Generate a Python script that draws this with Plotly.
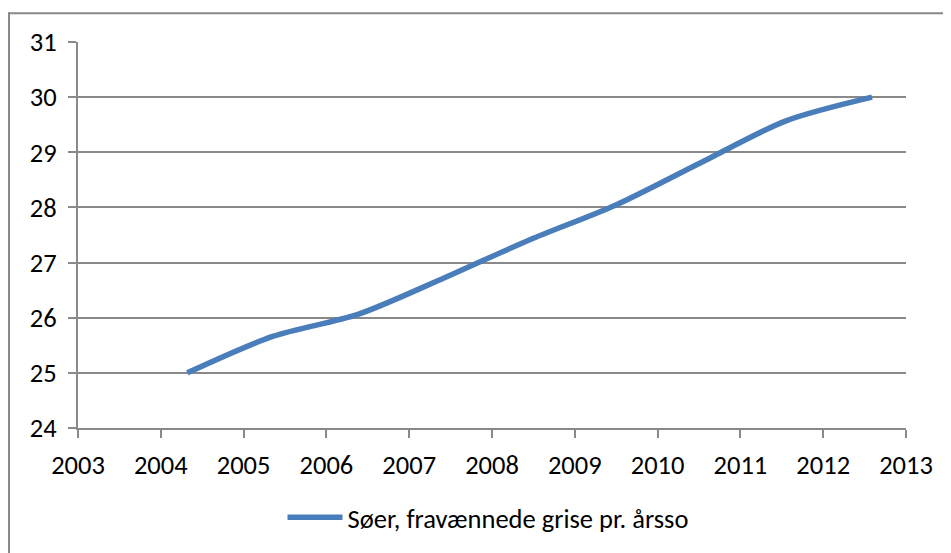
import plotly.graph_objects as go

# Data
years = [2004.32, 2005.35, 2006.38, 2007.42, 2008.45, 2009.49, 2010.52, 2011.55, 2012.59]
values = [25.0, 25.66, 26.06, 26.72, 27.41, 28.04, 28.81, 29.57, 30.0]
series_name = "Søer, fravænnede grise pr. årsso"
x_ticks = list(range(2003, 2014))
y_ticks = list(range(24, 32))

OFF = 8  # page body margin
W, H = 951 - OFF, 553 - OFF
L, R, T, B = 78 - OFF, 906 - OFF, 42 - OFF, 430 - OFF
ml, mr, mt, mb = L, W - R, T, H - B
pw, ph = R - L, B - T

def px(x):
    return (x - OFF - L) / pw

def py(y):
    return (B - (y - OFF)) / ph

FONT = "Carlito, Calibri, Lato, 'Liberation Sans', sans-serif"
GRID = "#898989"
FS = 26.5

fig = go.Figure()
fig.add_trace(go.Scatter(
    x=years, y=values, mode="lines", name=series_name,
    line=dict(color="#4A7EBB", width=5.5, shape="spline", smoothing=0.8),
))

fig.update_layout(
    width=W, height=H,
    margin=dict(l=ml, r=mr, t=mt, b=mb, pad=0),
    paper_bgcolor="white", plot_bgcolor="white",
    font=dict(family=FONT, size=FS, color="black"),
    showlegend=True,
    legend=dict(orientation="h", x=px(488), xanchor="center", y=py(520), yanchor="middle",
                font=dict(size=FS), itemwidth=55),
    xaxis=dict(range=[2003, 2013], tickvals=x_ticks, ticktext=[str(v) for v in x_ticks],
               showgrid=False, zeroline=False, showline=True, linecolor=GRID, linewidth=2,
               ticks="outside", ticklen=8, tickwidth=2, tickcolor=GRID,
               tickfont=dict(size=FS), ticklabelstandoff=4, fixedrange=True),
    yaxis=dict(range=[24, 31], tickvals=y_ticks, showgrid=True, gridcolor=GRID, gridwidth=2,
               zeroline=False, showline=True, linecolor=GRID, linewidth=2,
               ticks="outside", ticklen=8, tickwidth=2, tickcolor=GRID,
               tickfont=dict(size=FS), ticklabelstandoff=6, fixedrange=True),
    shapes=[
        dict(type="line", xref="paper", yref="paper", x0=px(9), x1=px(9), y0=py(12), y1=py(600),
             line=dict(color=GRID, width=2)),
        dict(type="line", xref="paper", yref="paper", x0=px(8), x1=px(1000), y0=py(13), y1=py(13),
             line=dict(color=GRID, width=2)),
    ],
)

fig.write_html("out.html")
